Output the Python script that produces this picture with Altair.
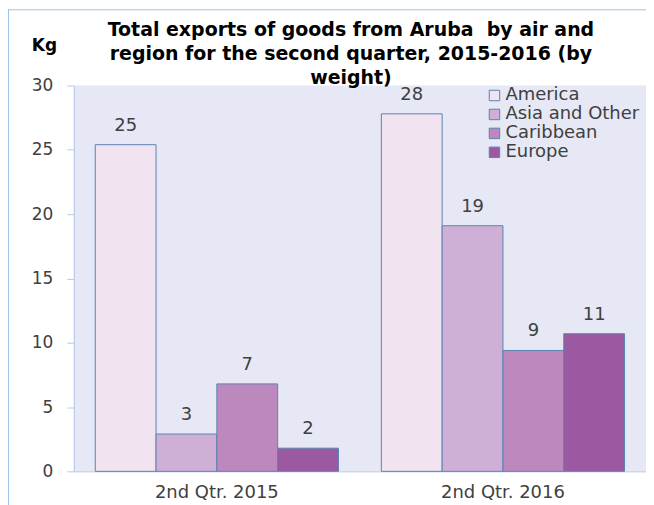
import altair as alt
import pandas as pd

quarters = ["2nd Qtr. 2015", "2nd Qtr. 2016"]
regions = ["America", "Asia and Other", "Caribbean", "Europe"]
america = [25.4, 27.8]
asia_other = [2.9, 19.1]
caribbean = [6.8, 9.4]
europe = [1.8, 10.7]
colors = ["#F2E3F1", "#CFAFD6", "#BD88BD", "#9B59A1"]
title_text = ("Total exports of goods from Aruba\u00a0 by air and\n"
              "region for the second quarter, 2015-2016 (by\n"
              "weight)")

rows = []
for reg, vals in zip(regions, [america, asia_other, caribbean, europe]):
    for q, v in zip(quarters, vals):
        rows.append({"quarter": q, "region": reg, "value": v})
df = pd.DataFrame(rows)
title_df = pd.DataFrame({"t": [title_text]})

FONT = "DejaVu Sans"
TXT = "#404040"
AXC = "#B4CBE4"

x = alt.X("quarter:N", sort=quarters, title=None,
          scale=alt.Scale(paddingInner=0.15, paddingOuter=0.075),
          axis=alt.Axis(labelAngle=0, ticks=False, domain=True, domainColor=AXC,
                        labelFontSize=18, labelColor=TXT, labelFont=FONT, labelPadding=12))
xo = alt.XOffset("region:N", sort=regions, scale=alt.Scale(paddingInner=0, paddingOuter=0))
y = alt.Y("value:Q", title="Kg",
          scale=alt.Scale(domain=[0, 30], nice=False),
          axis=alt.Axis(values=[0, 5, 10, 15, 20, 25, 30], grid=False, tickSize=7,
                        tickColor=AXC, domainColor=AXC, labelFontSize=17, labelColor=TXT,
                        labelFont=FONT, labelPadding=14,
                        titleAngle=0, titleX=-30, titleY=-40, titleAlign="center",
                        titleBaseline="middle", titleFontSize=17, titleFont=FONT,
                        titleFontWeight="bold", titleColor="#000000"))

bars = alt.Chart(df).mark_bar(stroke="#5A84B0", strokeWidth=1).encode(
    x=x, xOffset=xo, y=y,
    color=alt.Color("region:N", sort=regions, title=None,
                    scale=alt.Scale(domain=regions, range=colors),
                    legend=alt.Legend(orient="none", legendX=413, legendY=1,
                                      symbolType="square", symbolSize=110,
                                      symbolStrokeColor="#5A84B0", symbolStrokeWidth=1,
                                      labelFontSize=18, labelFont=FONT, labelColor=TXT,
                                      labelOffset=2, rowPadding=1)),
)

labels = alt.Chart(df).mark_text(baseline="bottom", dy=-10, fontSize=18, font=FONT, color=TXT).encode(
    x=x, xOffset=xo, y=y,
    text=alt.Text("value:Q", format=".0f"),
)

title = alt.Chart(title_df).mark_text(
    lineBreak="\n", align="center", baseline="top", fontSize=19, font=FONT,
    fontWeight="bold", color="#000000", lineHeight=24,
).encode(x=alt.value(278), y=alt.value(-65), text="t:N")

frame_v = alt.Chart(title_df).mark_rule(color="#9DC3E6", strokeWidth=1).encode(
    x=alt.value(-65.5), y=alt.value(-76), y2=alt.value(430))
frame_h = alt.Chart(title_df).mark_rule(color="#9DC3E6", strokeWidth=1).encode(
    x=alt.value(-66), x2=alt.value(600), y=alt.value(-76))

chart = alt.layer(bars, labels, title, frame_v, frame_h).properties(
    width=574, height=387,
    autosize=alt.AutoSizeParams(type="none"),
    padding={"left": 66, "top": 77, "right": 0, "bottom": 34},
    background="white",
).configure_view(fill="#E6E8F5", stroke=None)

chart.save("out.html", embed_options={"renderer": "svg", "actions": False})
